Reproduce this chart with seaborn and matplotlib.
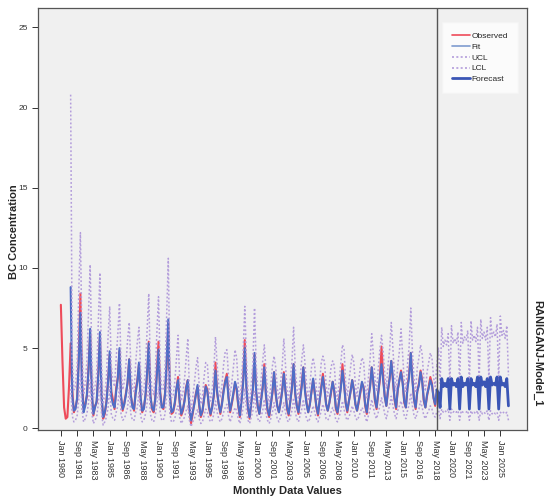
import numpy as np
import pandas as pd
import matplotlib
matplotlib.use('Agg')
import matplotlib.pyplot as plt
from matplotlib.lines import Line2D
import seaborn as sns

sns.set_style('white')
plt.rcParams['font.family'] = ['Liberation Sans', 'DejaVu Sans']

nan = np.nan

# bimonthly readings (Jan, Mar, May, Jul, Sep, Nov), Jan 1980 - Jul 2018
observed = [
    7.7, 4.2, 1.3, 0.6, 0.7, 2.6,
    5.3, 2.4, 1.0, 1.3, 1.8, 4.5,
    8.4, 3.0, 1.2, 1.5, 2.0, 3.8,
    5.9, 2.2, 0.8, 1.4, 1.6, 3.5,
    5.7, 2.0, 0.6, 0.9, 1.7, 3.0,
    4.6, 2.3, 1.8, 1.2, 2.5, 3.2,
    4.8, 1.9, 1.1, 1.6, 2.2, 2.8,
    4.3, 2.0, 1.5, 1.1, 2.4, 3.0,
    4.0, 1.8, 1.0, 1.3, 2.0, 3.4,
    5.4, 2.1, 1.2, 1.0, 1.9, 3.6,
    5.4, 2.3, 1.4, 1.2, 2.2, 3.9,
    6.6, 2.2, 0.9, 1.0, 1.5, 2.4,
    3.2, 1.6, 0.8, 1.1, 1.8, 2.6,
    3.0, 1.2, 0.3, 0.9, 1.6, 2.2,
    2.6, 1.4, 0.7, 1.0, 1.9, 2.7,
    2.4, 1.3, 0.8, 1.4, 2.0, 4.1,
    2.2, 1.5, 0.9, 1.6, 2.4, 3.0,
    3.4, 2.0, 1.0, 1.5, 2.1, 2.8,
    2.4, 1.4, 0.7, 1.8, 3.0, 5.5,
    2.6, 1.2, 0.6, 1.6, 2.5, 4.6,
    2.2, 1.3, 0.9, 1.8, 2.6, 4.0,
    2.0, 1.1, 0.7, 1.5, 2.2, 3.5,
    2.1, 1.4, 1.0, 1.6, 2.4, 3.5,
    2.3, 1.2, 0.8, 1.7, 2.6, 4.0,
    2.1, 1.4, 0.9, 1.9, 2.8, 3.8,
    2.4, 1.6, 1.0, 1.5, 2.3, 3.0,
    2.2, 1.3, 0.8, 1.7, 2.6, 3.4,
    2.5, 1.5, 1.1, 1.6, 2.2, 2.9,
    2.3, 1.2, 0.9, 1.8, 2.6, 4.0,
    2.9, 1.6, 1.0, 1.7, 2.3, 3.0,
    2.4, 1.5, 1.1, 1.6, 2.2, 2.8,
    2.6, 1.4, 0.9, 1.9, 2.7, 3.8,
    2.8, 1.7, 1.2, 2.2, 3.0, 5.1,
    3.3, 2.0, 1.4, 2.3, 3.1, 4.2,
    3.0, 1.8, 1.2, 2.4, 3.0, 3.6,
    2.9, 1.6, 1.3, 2.6, 3.4, 4.7,
    3.1, 1.8, 1.2, 2.3, 2.8, 3.6,
    3.0, 1.7, 1.3, 2.0, 2.6, 3.2,
    2.8, 1.9, 1.4, 2.3,
]

fit = [
    nan, nan, nan, nan, nan, nan,
    8.8, 2.0, 1.1, 1.2, 1.9, 4.2,
    7.2, 2.6, 1.0, 1.4, 2.1, 3.6,
    6.2, 2.3, 0.9, 1.3, 1.7, 3.3,
    6.0, 2.1, 0.7, 1.0, 1.6, 2.9,
    4.8, 2.0, 1.5, 1.3, 2.3, 3.1,
    5.0, 2.0, 1.2, 1.5, 2.1, 2.9,
    4.3, 2.1, 1.3, 1.2, 2.2, 2.9,
    4.1, 1.9, 1.1, 1.2, 2.1, 3.5,
    5.3, 2.0, 1.3, 1.1, 1.8, 3.4,
    4.9, 2.2, 1.3, 1.3, 2.1, 4.2,
    6.8, 2.0, 1.0, 1.1, 1.6, 2.5,
    3.0, 1.7, 0.9, 1.2, 1.7, 2.5,
    3.0, 1.3, 0.5, 1.0, 1.5, 2.1,
    2.7, 1.5, 0.8, 1.1, 1.8, 2.6,
    2.3, 1.4, 0.9, 1.3, 2.1, 3.6,
    2.3, 1.5, 1.0, 1.5, 2.3, 2.9,
    3.2, 1.9, 1.1, 1.6, 2.2, 2.9,
    2.5, 1.5, 0.8, 1.7, 2.8, 5.0,
    2.5, 1.3, 0.7, 1.6, 2.4, 4.7,
    2.3, 1.4, 0.9, 1.7, 2.5, 3.8,
    2.1, 1.2, 0.8, 1.5, 2.3, 3.5,
    2.2, 1.4, 1.0, 1.6, 2.3, 3.4,
    2.3, 1.3, 0.9, 1.7, 2.5, 4.0,
    2.2, 1.4, 1.0, 1.8, 2.6, 3.8,
    2.3, 1.5, 1.0, 1.5, 2.3, 3.1,
    2.2, 1.4, 0.9, 1.7, 2.5, 3.2,
    2.4, 1.5, 1.1, 1.6, 2.3, 2.9,
    2.3, 1.3, 1.0, 1.7, 2.5, 3.6,
    2.7, 1.6, 1.1, 1.7, 2.3, 3.0,
    2.4, 1.5, 1.1, 1.7, 2.3, 2.9,
    2.5, 1.5, 1.0, 1.9, 2.6, 3.8,
    2.9, 1.8, 1.3, 2.2, 3.2, 4.0,
    3.0, 2.0, 1.4, 2.4, 3.1, 4.2,
    3.1, 1.9, 1.3, 2.4, 3.0, 3.5,
    2.8, 1.7, 1.3, 2.5, 3.2, 4.7,
    3.0, 1.8, 1.3, 2.3, 2.7, 3.5,
    2.9, 1.8, 1.3, 2.1, 2.5, 3.0,
    2.7, 1.9, 1.5, 2.4,
]

ucl = [
    nan, nan, nan, nan, nan, nan,
    20.8, 4.3, 2.4, 2.6, 4.0, 8.5,
    12.2, 5.3, 2.1, 2.8, 4.2, 7.2,
    10.2, 4.6, 1.9, 2.6, 3.4, 6.5,
    9.7, 4.1, 1.5, 2.1, 3.2, 5.7,
    7.6, 3.9, 3.0, 2.6, 4.4, 5.9,
    7.8, 3.9, 2.4, 2.9, 4.0, 5.5,
    6.6, 4.0, 2.5, 2.3, 4.1, 5.4,
    6.3, 3.6, 2.1, 2.3, 3.9, 6.2,
    8.4, 3.7, 2.4, 2.1, 3.4, 6.0,
    8.2, 4.0, 2.4, 2.4, 3.8, 7.0,
    10.6, 3.6, 1.9, 2.0, 2.9, 4.3,
    5.8, 3.1, 1.7, 2.2, 3.1, 4.4,
    5.6, 2.4, 1.0, 1.9, 2.8, 3.8,
    4.4, 2.7, 1.5, 2.0, 3.2, 4.1,
    4.0, 2.5, 1.7, 2.4, 3.7, 5.7,
    4.0, 2.7, 1.9, 2.7, 4.0, 4.8,
    4.9, 3.3, 2.0, 2.8, 3.8, 4.9,
    4.4, 2.7, 1.5, 3.0, 4.7, 7.6,
    4.3, 2.4, 1.3, 2.8, 4.1, 7.5,
    4.0, 2.5, 1.7, 3.0, 4.2, 5.2,
    3.7, 2.2, 1.5, 2.7, 3.9, 4.5,
    3.8, 2.5, 1.8, 2.8, 3.9, 5.6,
    4.0, 2.4, 1.7, 3.0, 4.2, 6.3,
    3.8, 2.5, 1.8, 3.1, 4.3, 5.2,
    4.0, 2.7, 1.8, 2.7, 3.8, 4.4,
    3.8, 2.5, 1.7, 2.9, 4.1, 4.5,
    4.1, 2.7, 2.0, 2.8, 3.8, 4.2,
    3.9, 2.4, 1.8, 2.9, 4.1, 5.2,
    4.9, 2.8, 2.0, 2.9, 3.8, 4.6,
    4.1, 2.7, 2.0, 2.9, 3.8, 4.4,
    4.2, 2.7, 1.9, 3.2, 4.3, 5.9,
    4.6, 3.1, 2.3, 3.7, 4.9, 5.8,
    4.8, 3.4, 2.5, 3.9, 4.9, 6.6,
    5.0, 3.3, 2.3, 3.9, 4.8, 6.2,
    4.6, 3.0, 2.3, 4.0, 5.1, 7.5,
    4.8, 3.1, 2.3, 3.8, 4.4, 5.2,
    4.6, 3.1, 2.3, 3.5, 4.1, 4.7,
    4.4, 3.2, 2.6, 3.9,
]

lcl = [
    nan, nan, nan, nan, nan, nan,
    2.7, 0.8, 0.4, 0.5, 0.8, 1.8,
    3.6, 1.1, 0.4, 0.6, 0.9, 1.6,
    3.1, 1.0, 0.3, 0.5, 0.7, 1.5,
    3.0, 0.9, 0.2, 0.4, 0.7, 1.3,
    2.6, 0.9, 0.6, 0.5, 1.0, 1.4,
    2.7, 0.9, 0.5, 0.6, 0.9, 1.3,
    2.4, 0.9, 0.5, 0.5, 1.0, 1.3,
    2.3, 0.8, 0.4, 0.5, 0.9, 1.6,
    2.9, 0.9, 0.5, 0.4, 0.8, 1.5,
    2.6, 1.0, 0.5, 0.5, 0.9, 2.0,
    3.6, 0.9, 0.4, 0.4, 0.6, 1.1,
    1.4, 0.7, 0.3, 0.5, 0.7, 1.1,
    1.4, 0.5, 0.1, 0.4, 0.6, 0.9,
    1.2, 0.6, 0.3, 0.4, 0.8, 1.2,
    1.0, 0.6, 0.4, 0.5, 0.9, 1.7,
    1.0, 0.6, 0.4, 0.6, 1.0, 1.3,
    1.5, 0.8, 0.4, 0.7, 1.0, 1.3,
    1.1, 0.6, 0.3, 0.7, 1.3, 2.5,
    1.1, 0.5, 0.3, 0.7, 1.1, 2.3,
    1.0, 0.6, 0.4, 0.7, 1.1, 1.8,
    0.9, 0.5, 0.3, 0.6, 1.0, 1.6,
    1.0, 0.6, 0.4, 0.7, 1.0, 1.6,
    1.0, 0.5, 0.4, 0.7, 1.1, 1.9,
    1.0, 0.6, 0.4, 0.8, 1.2, 1.8,
    1.0, 0.6, 0.4, 0.6, 1.0, 1.4,
    1.0, 0.6, 0.4, 0.7, 1.1, 1.5,
    1.1, 0.6, 0.5, 0.7, 1.0, 1.3,
    1.0, 0.5, 0.4, 0.7, 1.1, 1.7,
    1.2, 0.7, 0.5, 0.7, 1.0, 1.4,
    1.1, 0.7, 0.5, 0.7, 1.0, 1.3,
    1.1, 0.7, 0.4, 0.8, 1.2, 1.8,
    1.3, 0.8, 0.6, 1.0, 1.4, 1.9,
    1.4, 0.9, 0.6, 1.1, 1.4, 2.0,
    1.4, 0.9, 0.6, 1.1, 1.4, 1.7,
    1.3, 0.8, 0.6, 1.1, 1.5, 2.2,
    1.4, 0.8, 0.6, 1.0, 1.2, 1.7,
    1.3, 0.8, 0.6, 0.9, 1.1, 1.4,
    1.2, 0.8, 0.7, 1.0,
]

# forecast, Jul 2018 - Nov 2025 (bimonthly)
forecast = [
    2.4, 2.2, 1.3,
    3.1, 2.6, 2.8, 2.6, 3.1, 1.2,
    3.1, 2.7, 2.8, 2.6, 3.1, 1.2,
    3.2, 2.6, 2.8, 2.7, 3.1, 1.2,
    3.1, 2.7, 2.8, 2.6, 3.2, 1.2,
    3.2, 2.7, 2.9, 2.6, 3.1, 1.2,
    3.2, 2.7, 2.8, 2.7, 3.2, 1.2,
    3.2, 2.7, 2.8, 2.6, 3.1, 1.4,
]
forecast_ucl = [
    3.9, 5.0, 2.8,
    6.3, 5.1, 5.5, 5.2, 5.9, 2.7,
    6.4, 5.3, 5.6, 5.3, 6.0, 2.8,
    6.6, 5.3, 5.7, 5.5, 6.1, 2.8,
    6.7, 5.5, 5.8, 5.4, 6.3, 2.9,
    6.8, 5.6, 6.0, 5.5, 6.3, 2.9,
    6.9, 5.7, 6.0, 5.7, 6.5, 3.0,
    7.0, 5.8, 6.1, 5.6, 6.4, 3.3,
]
forecast_lcl = [
    1.3, 1.2, 0.6,
    1.2, 1.0, 1.1, 1.0, 1.2, 0.5,
    1.2, 1.0, 1.1, 1.0, 1.1, 0.5,
    1.1, 1.0, 1.0, 1.0, 1.1, 0.5,
    1.1, 0.9, 1.0, 0.9, 1.1, 0.5,
    1.1, 0.9, 1.0, 0.9, 1.1, 0.5,
    1.1, 0.9, 1.0, 0.9, 1.0, 0.5,
    1.0, 0.9, 1.0, 0.9, 1.0, 0.5,
]

hist_dates = pd.date_range('1980-01-01', '2018-07-01', freq='2MS')
fc_dates = pd.date_range('2018-07-01', '2025-11-01', freq='2MS')
tick_dates = pd.date_range('1980-01-01', '2025-01-01', freq='20MS')

c_obs = '#EE4B5A'
c_fit = '#4F6DC6'
c_cl = '#B39DDB'
c_fc = '#3A55B5'
dots = (0, (1.2, 1.4))

fig = plt.figure(figsize=(5.44, 5.04), dpi=100)
ax = fig.add_axes([0.070, 0.147, 0.899, 0.837])
ax.set_facecolor('#F0F0F0')

sns.lineplot(x=hist_dates, y=observed, ax=ax, color=c_obs, lw=1.5)
sns.lineplot(x=hist_dates, y=fit, ax=ax, color=c_fit, lw=1.5)
sns.lineplot(x=hist_dates, y=ucl, ax=ax, color=c_cl, lw=1.1, linestyle=dots)
sns.lineplot(x=hist_dates, y=lcl, ax=ax, color=c_cl, lw=1.1, linestyle=dots)
sns.lineplot(x=fc_dates, y=forecast_ucl, ax=ax, color=c_cl, lw=1.1, linestyle=dots)
sns.lineplot(x=fc_dates, y=forecast_lcl, ax=ax, color=c_cl, lw=1.1, linestyle=dots)
sns.lineplot(x=fc_dates, y=forecast, ax=ax, color=c_fc, lw=2.0)

ax.axvline(pd.Timestamp('2018-07-01'), color='#555555', lw=1.0)

ax.set_xlim(pd.Timestamp('1977-09-01'), pd.Timestamp('2027-10-01'))
ax.set_ylim(-0.1, 26.2)
ax.set_yticks([0, 5, 10, 15, 20, 25])
ax.set_xticks(tick_dates)
ax.set_xticklabels([d.strftime('%b %Y') for d in tick_dates], rotation=270, fontsize=6.5)
ax.tick_params(axis='y', labelsize=6, labelcolor='#555555')
ax.tick_params(axis='both', direction='out', length=4, width=0.7, colors='#333333',
               bottom=True, left=True)
for s in ax.spines.values():
    s.set_color('#555555')
    s.set_linewidth(0.9)

ax.set_xlabel('Monthly Data Values', fontsize=8, fontweight='bold')
ax.xaxis.set_label_coords(0.51, -0.134)
ax.set_ylabel('BC Concentration', fontsize=8, fontweight='bold')
ax.yaxis.set_label_coords(-0.038, 0.47)
fig.text(0.988, 0.405, 'RANIGANJ-Model_1', rotation=270, fontsize=8,
         fontweight='bold', va='top', ha='center')

handles = [
    Line2D([], [], color=c_obs, lw=1.2),
    Line2D([], [], color='#7F9BCF', lw=1.2),
    Line2D([], [], color=c_cl, lw=1.2, linestyle=dots),
    Line2D([], [], color=c_cl, lw=1.2, linestyle=dots),
    Line2D([], [], color=c_fc, lw=2.0),
]
leg = ax.legend(handles, ['Observed', 'Fit', 'UCL', 'LCL', 'Forecast'],
                loc='upper right', bbox_to_anchor=(0.99, 0.976), fontsize=6,
                frameon=True, fancybox=False, handlelength=2.2, handletextpad=0.2,
                borderpad=1.2, labelspacing=0.35)
leg.get_frame().set_facecolor('white')
leg.get_frame().set_edgecolor('#F4F4F4')

fig.savefig('out.png', dpi=100)
